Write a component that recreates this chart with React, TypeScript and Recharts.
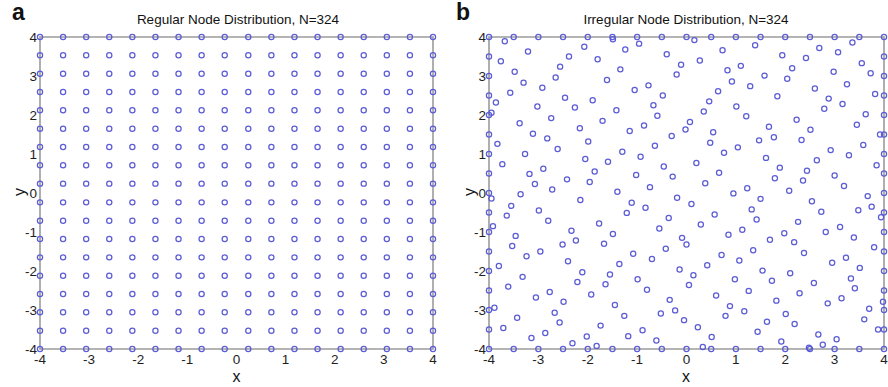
import { ScatterChart, Scatter, XAxis, YAxis, ReferenceArea } from 'recharts';

const FONT = '"Liberation Sans", Arial, Helvetica, sans-serif';
const DOT = '#5c5cd6';
const BOX = '#9c9c9c';

const ticks = [-4, -3, -2, -1, 0, 1, 2, 3, 4];

// regular 18 x 18 lattice positions
const gridX = [-4, -3.53, -3.06, -2.59, -2.12, -1.65, -1.18, -0.71, -0.24, 0.24, 0.71, 1.18, 1.65, 2.12, 2.59, 3.06, 3.53, 4];
const gridY = [-4, -3.53, -3.06, -2.59, -2.12, -1.65, -1.18, -0.71, -0.24, 0.24, 0.71, 1.18, 1.65, 2.12, 2.59, 3.06, 3.53, 4];

// irregular nodes
const irregularTop: [number, number][] = [
  [-4, 4], [-3.5, 4], [-3, 4], [-2.5, 4], [-3.68, 3.89], [-3.21, 3.63], [-4, 3.5], [-3.76, 3.38], [-2.38, 3.5], [-2.56, 3.24],
  [-4, 3], [-3.48, 3.11], [-2.65, 2.96], [-3.3, 2.83], [-2.92, 2.7], [-3.57, 2.57], [-4, 2.5], [-2.46, 2.44], [-3.86, 2.32], [-3.02, 2.22],
  [-4, 2], [-3.95, 2.06], [-2.74, 1.92], [-3.38, 1.79],
  [-2, 4], [-1.5, 4], [-1.49, 3.94], [-1, 4], [-0.5, 4], [-2.07, 3.75], [-0.96, 3.83], [-1.24, 3.68], [-1.8, 3.43], [-0.4, 3.56],
  [-1.34, 3.17], [-1.61, 2.9], [-1.05, 2.64], [-0.77, 2.76], [-0.48, 2.5], [-1.9, 2.38], [-2.26, 2.19], [-0.67, 2.25], [-1.42, 2.12],
  [-0.59, 1.98], [-1.7, 1.85], [-0.86, 1.73], [-2.16, 1.66], [-1.15, 1.59],
  [0, 4], [0.16, 3.92], [0.5, 4], [1, 4], [1.5, 4], [0.73, 3.66], [1.39, 3.79], [0.27, 3.4], [-0.11, 3.29], [-0.2, 3.04],
  [0.83, 3.15], [1.1, 3.26], [0.92, 2.86], [1.58, 3.01], [1.29, 2.74], [0.64, 2.61], [1.84, 2.48], [0.46, 2.35], [1.01, 2.22],
  [0.35, 2.09], [1.21, 1.97], [0.07, 1.82], [-0.02, 1.63], [1.67, 1.7], [0.54, 1.56],
  [2, 4], [2.5, 4], [3, 4], [3.5, 4], [4, 4], [3.36, 3.86], [2.69, 3.72], [1.94, 3.53], [2.42, 3.46], [3.07, 3.61], [4, 3.5],
  [3.55, 3.33], [2.14, 3.2], [2.98, 3.11], [3.73, 3.07], [4, 3], [2.04, 2.93], [3.25, 2.79], [2.6, 2.68], [3.82, 2.54], [4, 2.5],
  [2.88, 2.42], [3.16, 2.28], [2.79, 2.16], [4, 2], [3.63, 2.02], [2.23, 1.88], [3.45, 1.75], [2.51, 1.62],
];

const irregularMiddle: [number, number][] = [
  [-4, 1.5], [-3.11, 1.52], [-2.82, 1.4], [-3.83, 1.26], [-2.61, 1.13], [-4, 1], [-3.27, 1], [-3.73, 0.74], [-2.9, 0.62], [-3.18, 0.49],
  [-4, 0.5], [-2.42, 0.35], [-3.07, 0.23], [-2.72, 0.09], [-4, 0], [-3.95, -0.14], [-3.36, -0.03], [-3.55, -0.33], [-4, -0.5],
  [-3.64, -0.58], [-2.99, -0.45], [-2.8, -0.71], [-3.92, -0.85], [-4, -1], [-3.46, -1.1],
  [-0.3, 1.46], [-1.99, 1.32], [-1.3, 1.06], [-0.64, 1.21], [-0.93, 0.93], [-2.05, 0.87], [-1.59, 0.8], [-0.46, 0.68], [-1.86, 0.55],
  [-1.02, 0.46], [-0.28, 0.42], [-1.96, 0.28], [-0.74, 0.15], [-1.4, 0.03], [-2.15, -0.18], [-1.11, -0.25], [-0.83, -0.38],
  [-1.21, -0.51], [-0.36, -0.64], [-1.77, -0.78], [-2.33, -0.97], [-0.55, -0.91], [-1.49, -1.05], [-2.24, -1.22],
  [1.77, 1.43], [1.47, 1.35], [0.48, 1.29], [1.04, 1.17], [0.76, 1.03], [1.61, 0.9], [0.2, 0.77], [0.66, 0.52], [1.79, 0.38],
  [0.38, 0.25], [1.23, 0.12], [0.95, -0.01], [-0.19, -0.12], [1.5, -0.15], [0.1, -0.28], [1.32, -0.42], [0.57, -0.55], [1.42, -0.68],
  [0.29, -0.81], [1.13, -0.94], [0.85, -1.07], [-0.09, -1.15], [1.69, -1.2],
  [3.92, 1.5], [4, 1.5], [2.33, 1.36], [3.58, 1.23], [2.92, 1.1], [3.29, 0.97], [4, 1], [2.64, 0.84], [3.85, 0.71], [1.89, 0.65],
  [2.44, 0.57], [4, 0.5], [3, 0.45], [2.36, 0.32], [3.19, 0.18], [2.08, 0.06], [4, 0], [3.67, -0.08], [2.54, -0.21], [3.75, -0.35],
  [3.48, -0.44], [2.73, -0.48], [4, -0.5], [3.94, -0.62], [2.26, -0.74], [3.11, -0.87], [4, -1], [2.82, -1], [1.98, -1.03],
  [3.39, -1.14], [2.18, -1.26],
];

const irregularBottom: [number, number][] = [
  [-3.53, -1.36], [-2.51, -1.32], [-4, -1.5], [-3.24, -1.62], [-2.96, -1.5], [-2.4, -1.75], [-3.8, -1.87], [-4, -2], [-3.32, -2.15],
  [-3.61, -2.4], [-4, -2.5], [-2.77, -2.54], [-3.05, -2.68], [-2.49, -2.79], [-4, -3], [-3.89, -2.94], [-2.67, -3.07], [-3.43, -3.2],
  [-2.57, -3.32], [-4, -3.5], [-3.71, -3.46], [-2.86, -3.59], [-3.14, -3.72], [-4, -4], [-3.5, -4], [-3, -4], [-2.5, -4],
  [-1.67, -1.3], [-0.42, -1.43], [-1.08, -1.56], [-0.7, -1.69], [-1.36, -1.82], [-2.11, -2.03], [-1.55, -2.09], [-0.99, -2.21],
  [-2.21, -2.28], [-1.64, -2.34], [-0.8, -2.48], [-1.93, -2.6], [-0.34, -2.74], [-1.45, -2.87], [-1.26, -3.15], [-0.52, -3.09],
  [-1.74, -3.4], [-0.89, -3.52], [-1.18, -3.67], [-2.02, -3.68], [-0.61, -3.78], [-2.31, -3.85], [-1.82, -3.92], [-2, -4], [-1.5, -4],
  [-1, -4], [-0.5, -4],
  [0, -1.32], [1.35, -1.47], [0.71, -1.59], [1.07, -1.73], [0.42, -1.85], [-0.14, -1.96], [0.14, -2.11], [1.54, -1.99], [0.98, -2.21],
  [1.73, -2.25], [0.05, -2.36], [1.26, -2.51], [0.6, -2.63], [1.82, -2.76], [0.88, -2.9], [-0.23, -3.01], [1.17, -3.03], [0.79, -3.15],
  [-0.05, -3.26], [1.63, -3.3], [0.23, -3.44], [1.44, -3.56], [0.51, -3.69], [0.33, -3.95], [0, -4], [0.5, -4], [1, -4], [1.5, -4],
  [3.8, -1.39], [4, -1.5], [2.38, -1.54], [2.95, -1.79], [3.23, -1.66], [3.51, -1.92], [2.1, -2.06], [4, -2], [3.33, -2.19],
  [2.58, -2.31], [3.41, -2.44], [4, -2.5], [2.29, -2.57], [3.14, -2.7], [2.86, -2.83], [3.98, -2.79], [4, -3], [3.7, -2.97],
  [2.01, -3.1], [3.6, -3.24], [2.19, -3.36], [3.88, -3.5], [4, -3.5], [2.67, -3.63], [3.04, -3.75], [1.92, -3.81], [2.76, -3.89],
  [2.48, -3.97], [2.5, -4], [2, -4], [3, -4], [3.5, -4], [4, -4],
];

const regularData = gridY.flatMap((y) => gridX.map((x) => ({ x, y })));
const irregularData = [...irregularTop, ...irregularMiddle, ...irregularBottom].map(([x, y]) => ({ x, y }));

const ring = (props: any) => (
  <circle cx={props.cx} cy={props.cy} r={2.6} fill="none" stroke={DOT} strokeWidth={1.25} />
);

const tickStyle = { fontSize: 13.5, fill: '#1e1e1e', fontFamily: FONT };

function NodePlot({ data, yAxisWidth, marginRight }: { data: { x: number; y: number }[]; yAxisWidth: number; marginRight: number }) {
  return (
    <ScatterChart width={444} height={387} margin={{ top: 37, right: marginRight, bottom: 0, left: 0 }}>
      <XAxis
        type="number"
        dataKey="x"
        domain={[-4, 4]}
        ticks={ticks}
        interval={0}
        height={38}
        axisLine={false}
        tickLine={false}
        tickSize={3}
        tickMargin={2}
        tick={tickStyle}
      />
      <YAxis
        type="number"
        dataKey="y"
        domain={[-4, 4]}
        ticks={ticks}
        interval={0}
        width={yAxisWidth}
        axisLine={false}
        tickLine={false}
        tickSize={2}
        tickMargin={1}
        tick={tickStyle}
      />
      <ReferenceArea x1={-4} x2={4} y1={-4} y2={4} fill="none" stroke={BOX} strokeWidth={1.6} fillOpacity={0} />
      <Scatter data={data} shape={ring} isAnimationActive={false} />
    </ScatterChart>
  );
}

export default function App() {
  return (
    <div style={{ position: 'relative', width: 888, height: 387, background: '#fff', fontFamily: FONT }}>
      <style>{'body{margin:0}'}</style>
      <div style={{ position: 'absolute', left: 0, top: 0 }}>
        <NodePlot data={regularData} yAxisWidth={40} marginRight={11} />
      </div>
      <div style={{ position: 'absolute', left: 444, top: 0 }}>
        <NodePlot data={irregularData} yAxisWidth={45} marginRight={4} />
      </div>
      <svg width={888} height={387} style={{ position: 'absolute', left: 0, top: 0, pointerEvents: 'none' }}>
        <g fontFamily={FONT} fill="#111">
          <text x={12} y={20} fontSize={23} fontWeight="bold">a</text>
          <text x={456} y={20} fontSize={23} fontWeight="bold">b</text>
          <text x={238} y={24} fontSize={13.5} textAnchor="middle">Regular Node Distribution, N=324</text>
          <text x={686} y={24} fontSize={13.5} textAnchor="middle">Irregular Node Distribution, N=324</text>
          <text x={236.5} y={382} fontSize={16} textAnchor="middle">x</text>
          <text x={686} y={382} fontSize={16} textAnchor="middle">x</text>
          <text x={25} y={192} fontSize={16} textAnchor="middle" transform="rotate(-90 25 192)">y</text>
          <text x={475} y={192} fontSize={16} textAnchor="middle" transform="rotate(-90 475 192)">y</text>
        </g>
      </svg>
    </div>
  );
}
